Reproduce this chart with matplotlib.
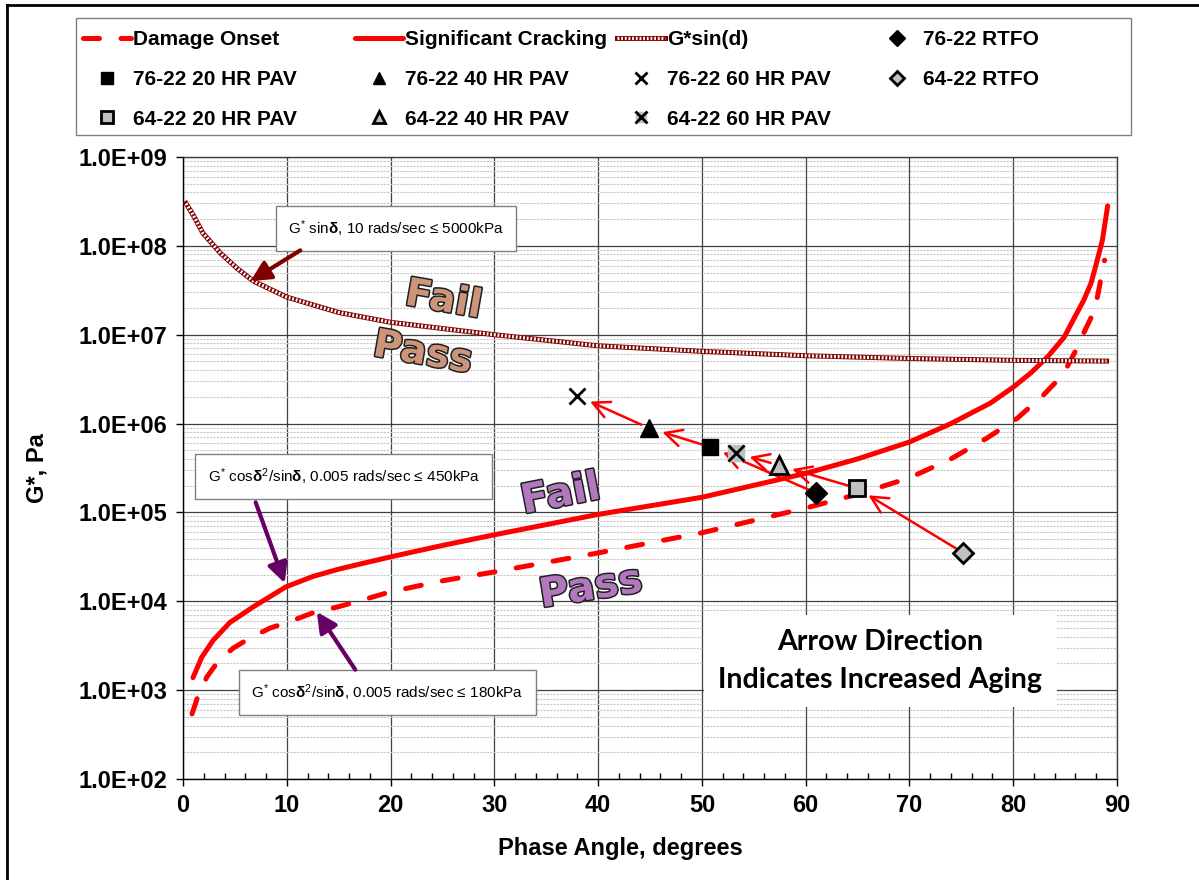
import matplotlib
matplotlib.use('Agg')
import matplotlib.pyplot as plt
import matplotlib.patheffects as pe
from matplotlib.lines import Line2D
from matplotlib.patches import Rectangle
from matplotlib.legend_handler import HandlerTuple
from matplotlib.ticker import MultipleLocator, LogLocator, FuncFormatter, NullFormatter
from matplotlib import font_manager

W, H = 1199, 880

names = {f.name for f in font_manager.fontManager.ttflist}
NARROW = 'Liberation Sans Narrow' if 'Liberation Sans Narrow' in names else 'Liberation Sans'
plt.rcParams['font.family'] = ['Liberation Sans', 'DejaVu Sans']
plt.rcParams['mathtext.fontset'] = 'custom'
plt.rcParams['mathtext.rm'] = NARROW
plt.rcParams['mathtext.bf'] = NARROW + ':bold'
plt.rcParams['mathtext.it'] = NARROW

# ---- criteria curves: phase angle (deg) vs G* (Pa) ----
onset_delta = [0.87, 1.4, 2.3, 3.3, 4.8, 6.5, 8.4, 10, 12.5, 15, 17.5, 20, 25, 30, 40, 50,
               60, 65, 70, 74, 77.5, 80.4, 82.9, 84.3, 85.2, 86.2, 86.8, 87.7, 88.1, 88.8]
onset_g = [5.4e2, 8.3e2, 1.41e3, 2.04e3, 2.95e3, 3.89e3, 5.0e3, 5.75e3, 7.4e3, 8.7e3,
           1.05e4, 1.28e4, 1.7e4, 2.14e4, 3.5e4, 5.9e4, 1.12e5, 1.6e5, 2.45e5, 4.0e5,
           6.9e5, 1.15e6, 2.09e6, 3.09e6, 4.37e6, 7.24e6, 1.05e7, 1.74e7, 2.63e7, 6.9e7]

crack_delta = [0.96, 1.8, 2.9, 4.5, 6.8, 9.9, 12.5, 15, 17.5, 20, 25, 30, 40, 50, 60, 65,
               70, 74, 77.8, 80, 81.7, 83.3, 84.9, 85.8, 86.8, 87.5, 88.1, 88.6, 89.1]
crack_g = [1.38e3, 2.34e3, 3.63e3, 5.75e3, 8.7e3, 1.45e4, 1.9e4, 2.3e4, 2.7e4, 3.16e4,
           4.25e4, 5.6e4, 9.5e4, 1.48e5, 2.75e5, 4.0e5, 6.2e5, 1.0e6, 1.7e6, 2.57e6,
           3.72e6, 5.62e6, 9.33e6, 1.48e7, 2.45e7, 3.8e7, 6.92e7, 1.17e8, 2.82e8]

gsin_delta = [0.3, 1.0, 1.9, 3.6, 5.2, 6.8, 10, 15, 20, 30, 40, 50, 60, 70, 80, 89]
gsin_g = [3.0e8, 2.2e8, 1.4e8, 8.3e7, 5.6e7, 4.0e7, 2.65e7, 1.78e7, 1.38e7, 1.0e7,
          7.5e6, 6.5e6, 5.8e6, 5.4e6, 5.15e6, 5.05e6]

# ---- binder measurements, in aging order: RTFO, 20, 40, 60 HR PAV ----
delta_7622 = [61.0, 50.8, 44.9, 38.0]
g_7622 = [1.66e5, 5.45e5, 8.9e5, 2.05e6]
delta_6422 = [75.2, 64.9, 57.4, 53.3]
g_6422 = [3.5e4, 1.88e5, 3.4e5, 4.65e5]

RED = '#FF0000'
MAROON = '#800000'
PURPLE = '#660066'
SILVER = '#C0C0C0'

fig = plt.figure(figsize=(W / 100, H / 100), dpi=100)
ax = fig.add_axes([183 / W, 1 - 779 / H, (1117 - 183) / W, (779 - 157) / H])
ax.set_yscale('log')
ax.set_xlim(0, 90)
ax.set_ylim(1e2, 1e9)

# grid
ax.yaxis.set_minor_locator(LogLocator(base=10, subs=range(2, 10), numticks=20))
ax.yaxis.set_minor_formatter(NullFormatter())
ax.xaxis.set_major_locator(MultipleLocator(10))
ax.xaxis.set_minor_locator(MultipleLocator(2))
ax.grid(True, which='major', axis='both', color='#404040', lw=0.9)
ax.grid(True, which='minor', axis='y', color='#C8C8C8', lw=0.8, ls=(0, (2, 1)))
ax.set_axisbelow(True)
for s in ax.spines.values():
    s.set_color('#404040')
    s.set_linewidth(1.0)
ax.spines['left'].set_color('black')
ax.spines['bottom'].set_color('black')

ax.tick_params(axis='both', which='major', direction='out', length=5, width=1,
               labelsize=17, pad=6)
ax.tick_params(axis='x', which='minor', direction='in', length=4, width=1)
ax.tick_params(axis='y', which='minor', length=0)
ax.yaxis.set_major_formatter(FuncFormatter(lambda v, p: f"{v:.1E}"))
for lab in ax.get_xticklabels() + ax.get_yticklabels():
    lab.set_fontweight('bold')

fig.text(620 / W, 1 - 848 / H, 'Phase Angle, degrees', ha='center', va='center',
         fontsize=17, fontweight='bold')
fig.text(37 / W, 1 - 468 / H, 'G*, Pa', ha='center', va='center', rotation=90,
         fontsize=17, fontweight='bold')

# criteria lines
onset_line, = ax.plot(onset_delta, onset_g, color=RED, lw=3.6, ls=(0, (3.2, 4.3)),
                      dash_capstyle='round', zorder=3)
crack_line, = ax.plot(crack_delta, crack_g, color=RED, lw=3.6,
                      solid_capstyle='round', zorder=3)
gsin_base, = ax.plot(gsin_delta, gsin_g, color=MAROON, lw=3.6, zorder=3)
gsin_dots, = ax.plot(gsin_delta, gsin_g, color='white', lw=2.4, ls=(0, (0.55, 0.55)),
                     zorder=3)

# aging arrows
arrow_kw = dict(arrowstyle='->,head_length=0.6,head_width=0.3', color=RED, lw=1.8,
                shrinkA=6, shrinkB=10, mutation_scale=20)
for dd, gg in ((delta_7622, g_7622), (delta_6422, g_6422)):
    for i in range(len(dd) - 1):
        ax.annotate('', xy=(dd[i + 1], gg[i + 1]), xytext=(dd[i], gg[i]),
                    arrowprops=arrow_kw, zorder=4)

# markers
mk = dict(ls='none', zorder=5)
h_r76, = ax.plot(delta_7622[0], g_7622[0], marker='D', ms=11, mfc='black', mec='black', **mk)
h_20_76, = ax.plot(delta_7622[1], g_7622[1], marker='s', ms=12, mfc='black', mec='black', **mk)
h_40_76, = ax.plot(delta_7622[2], g_7622[2], marker='^', ms=13, mfc='black', mec='black', **mk)
h_60_76, = ax.plot(delta_7622[3], g_7622[3], marker='x', ms=12, mew=2, color='black', **mk)
h_r64, = ax.plot(delta_6422[0], g_6422[0], marker='D', ms=10, mfc=SILVER, mec='black', mew=2, **mk)
h_20_64, = ax.plot(delta_6422[1], g_6422[1], marker='s', ms=12, mfc=SILVER, mec='black', mew=2, **mk)
h_40_64, = ax.plot(delta_6422[2], g_6422[2], marker='^', ms=13, mfc=SILVER, mec='black', mew=2, **mk)
h_60_64bg, = ax.plot(delta_6422[3], g_6422[3], marker='s', ms=11, mfc=SILVER, mec=SILVER, **mk)
h_60_64, = ax.plot(delta_6422[3], g_6422[3], marker='x', ms=12, mew=2, color='black', **mk)

# criterion call-outs
box = dict(boxstyle='square,pad=0.8', fc='white', ec='#808080', lw=1)
ax.text(20.5, 1.58e8, r'G$^{*}$ sin$\mathbf{\delta}$, 10 rads/sec ≤ 5000kPa',
        fontsize=11, family=NARROW, ha='center', va='center', bbox=box, zorder=6)
ax.text(15.5, 2.54e5, r'G$^{*}$ cos$\mathbf{\delta}^{2}$/sin$\mathbf{\delta}$, 0.005 rads/sec ≤ 450kPa',
        fontsize=11, family=NARROW, ha='center', va='center', bbox=box, zorder=6)
ax.text(19.7, 9.4e2, r'G$^{*}$ cos$\mathbf{\delta}^{2}$/sin$\mathbf{\delta}$, 0.005 rads/sec ≤ 180kPa',
        fontsize=11, family=NARROW, ha='center', va='center', bbox=box, zorder=6)

call_kw = dict(arrowstyle='-|>,head_length=0.6,head_width=0.3', lw=3,
               mutation_scale=20, shrinkA=0, shrinkB=0)
ax.annotate('', xy=(6.5, 4.0e7), xytext=(11.3, 8.9e7),
            arrowprops=dict(color=MAROON, **call_kw), zorder=6)
ax.annotate('', xy=(9.8, 1.6e4), xytext=(7.0, 1.3e5),
            arrowprops=dict(color=PURPLE, **call_kw), zorder=6)
ax.annotate('', xy=(12.9, 7.6e3), xytext=(16.6, 1.7e3),
            arrowprops=dict(color=PURPLE, **call_kw), zorder=6)

# pass / fail word art
def word(x, y, s, color, rot, size):
    ax.text(x, y, s, color=color, rotation=rot, fontsize=size, family='DejaVu Sans',
            fontweight='bold', ha='center', va='center', zorder=6,
            path_effects=[pe.Stroke(linewidth=2.2, foreground='#202020'), pe.Normal()])

TAN = '#CC9478'
LILAC = '#B278BE'
word(25.1, 2.45e7, 'Fail', TAN, -10, 28)
word(23.1, 6.2e6, 'Pass', TAN, -10, 28)
word(36.4, 1.57e5, 'Fail', LILAC, 11, 29)
word(39.3, 1.4e4, 'Pass', LILAC, 9, 29)

ax.text(67.2, 2.13e3, 'Arrow Direction\nIndicates Increased Aging', family=['Lato', 'DejaVu Sans'],
        fontsize=20.5, fontweight='bold', ha='center', va='center', linespacing=1.55,
        bbox=dict(boxstyle='square,pad=0.5', fc='white', ec='none'), zorder=6)

# legend, laid out one column at a time
overlay = HandlerTuple(ndivide=1)
cols = [
    ([onset_line, h_20_76, h_20_64], ['Damage Onset', '76-22 20 HR PAV', '64-22 20 HR PAV'], 83),
    ([crack_line, h_40_76, h_40_64], ['Significant Cracking', '76-22 40 HR PAV', '64-22 40 HR PAV'], 355),
    ([(gsin_base, gsin_dots), h_60_76, (h_60_64bg, h_60_64)],
     ['G*sin(d)', '76-22 60 HR PAV', '64-22 60 HR PAV'], 617),
    ([h_r76, h_r64], ['76-22 RTFO', '64-22 RTFO'], 873),
]
for handles, labels, x0 in cols:
    fig.legend(handles, labels, loc='upper left', bbox_to_anchor=(x0 / W, 1 - 30 / H),
               frameon=False, borderpad=0, borderaxespad=0, handlelength=2.3,
               handletextpad=0.12, labelspacing=1.0, markerscale=0.7,
               prop=dict(family='Liberation Sans', weight='bold', size=15),
               handler_map={tuple: overlay})
fig.add_artist(Rectangle((76 / W, 1 - 135 / H), (1131 - 76) / W, (135 - 18) / H,
                         transform=fig.transFigure, fill=False, ec='#808080', lw=1))

# outer frame
fig.add_artist(Line2D([7 / W, 7 / W], [0, 1 - 5 / H], color='black', lw=2,
                      transform=fig.transFigure))
fig.add_artist(Line2D([7 / W, 1], [1 - 5 / H, 1 - 5 / H], color='black', lw=2,
                      transform=fig.transFigure))

fig.savefig('out.png', dpi=100)
